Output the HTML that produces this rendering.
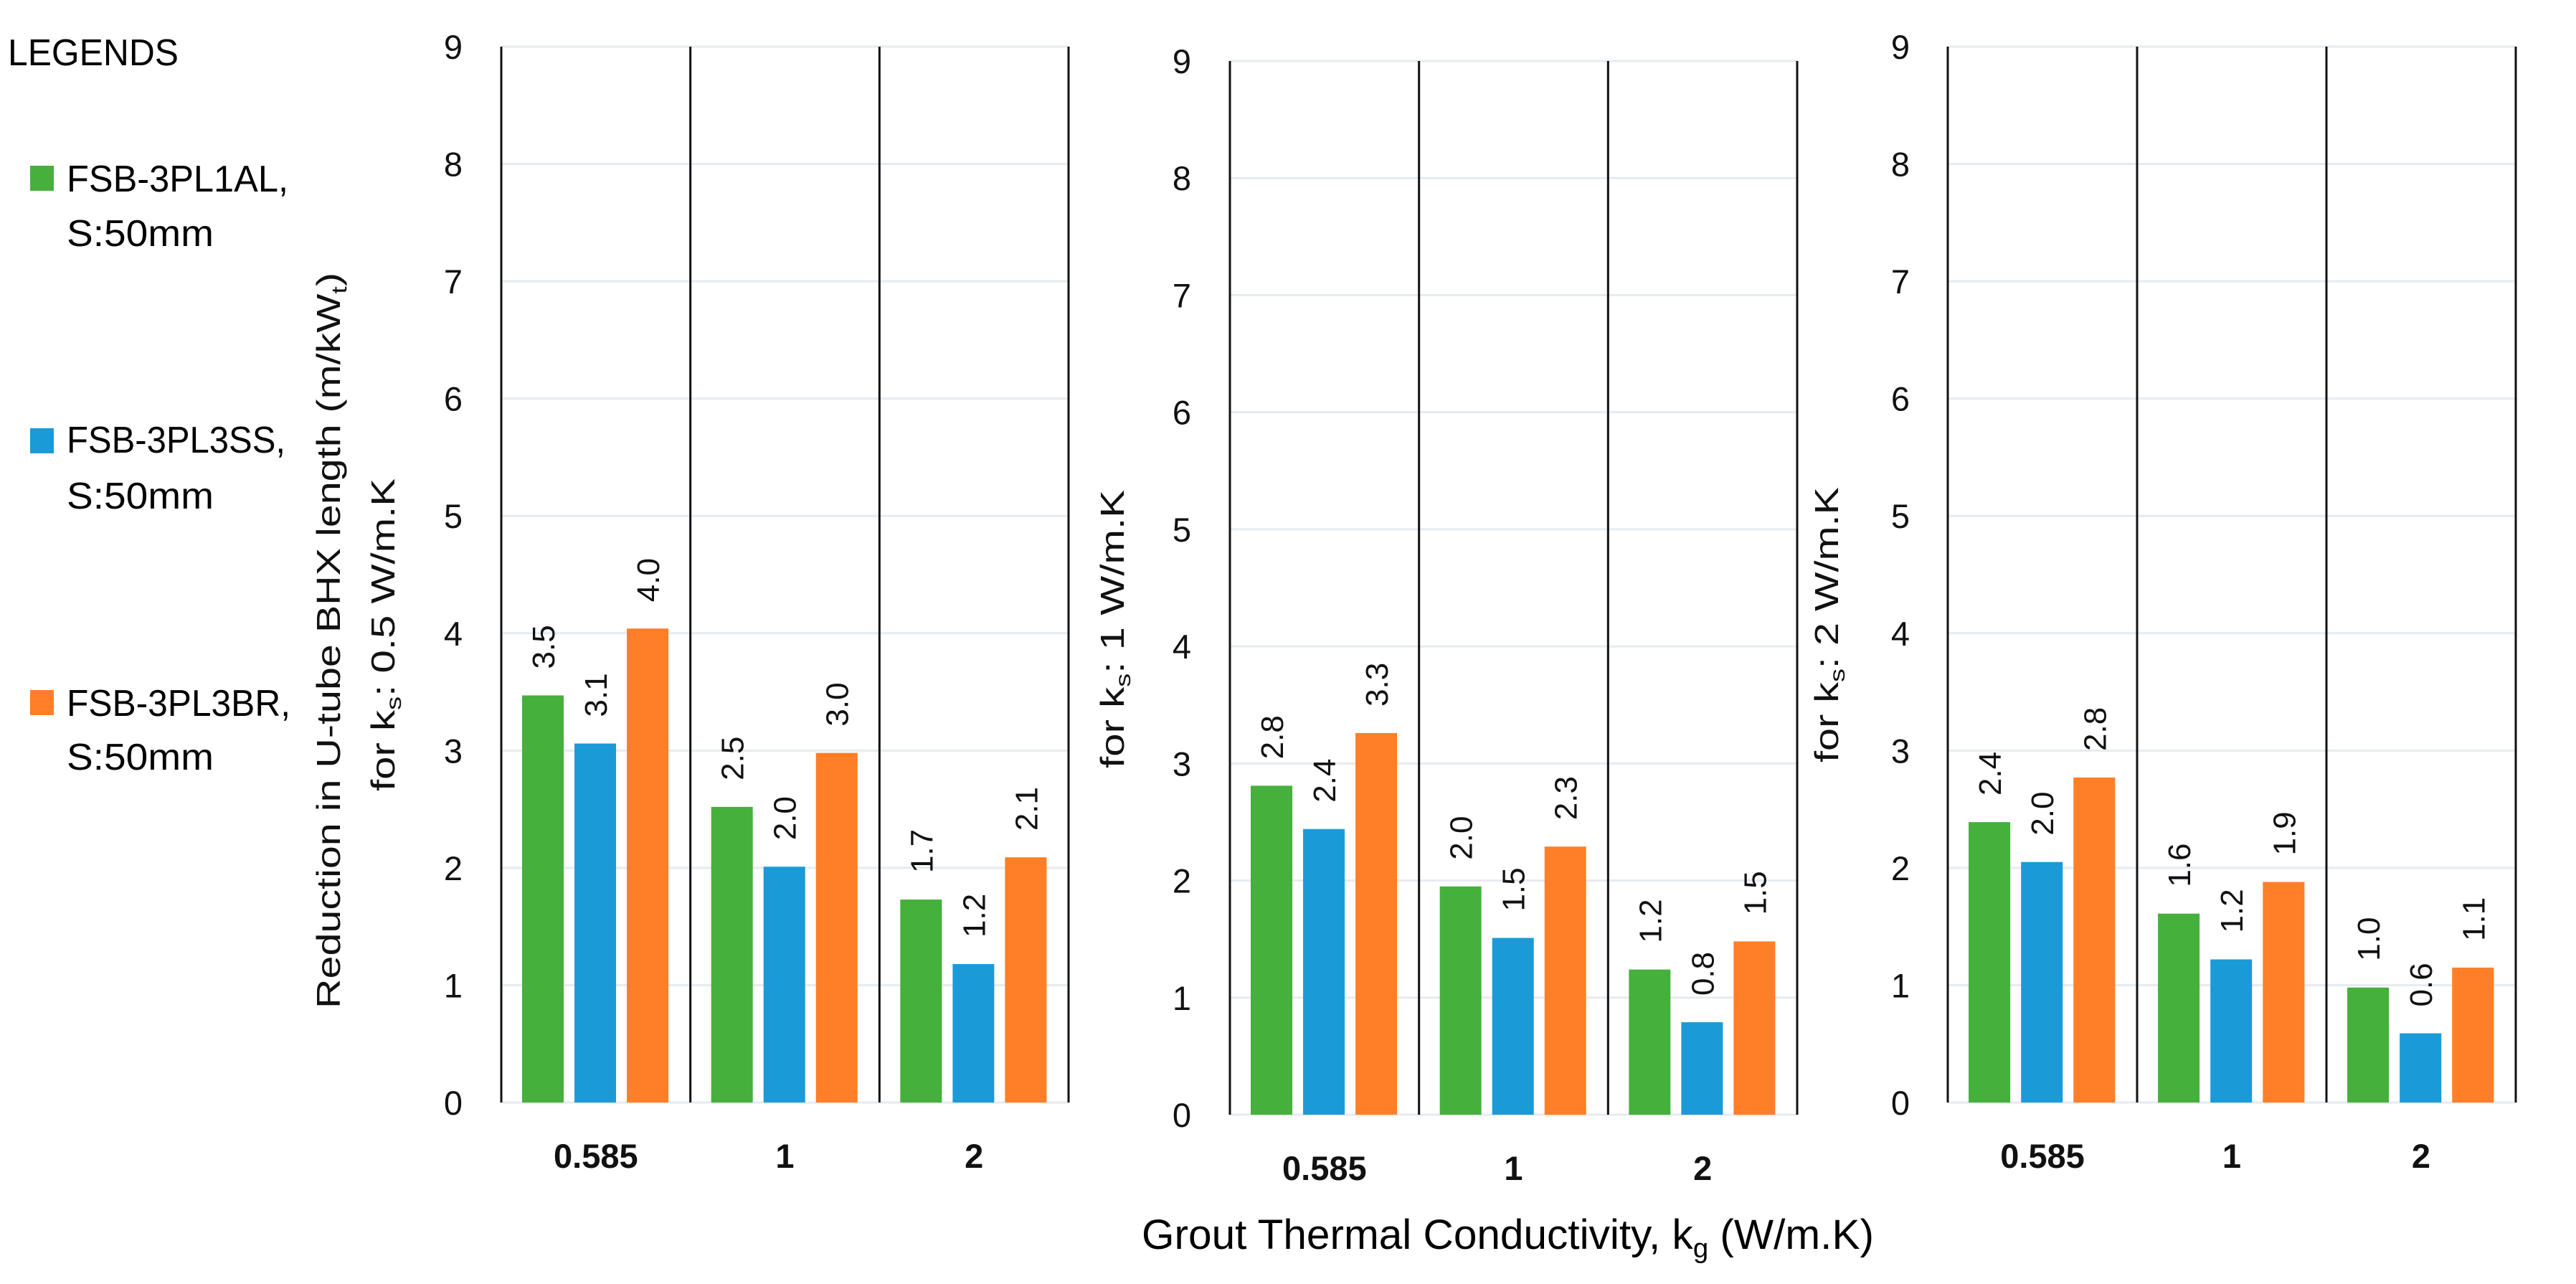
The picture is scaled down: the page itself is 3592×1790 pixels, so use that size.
<!DOCTYPE html>
<html><head><meta charset="utf-8"><style>
html,body{margin:0;padding:0;background:#fff;}
svg{display:block;font-family:"Liberation Sans",sans-serif;}
</style></head><body>
<svg id="chart" width="3592" height="1790" viewBox="0 0 3592 1790" xmlns="http://www.w3.org/2000/svg">
<g id="legend">
  <text x="11" y="91" font-size="52" textLength="238" lengthAdjust="spacingAndGlyphs">LEGENDS</text>
  <g>
    <rect x="42" y="231" width="33" height="35" fill="#46b03c"/>
    <text x="93" y="267" font-size="52" textLength="309" lengthAdjust="spacingAndGlyphs">FSB-3PL1AL,</text>
    <text x="93" y="343" font-size="52" textLength="205" lengthAdjust="spacingAndGlyphs">S:50mm</text>
  </g>
  <g>
    <rect x="42" y="597" width="33" height="35" fill="#1a9bd7"/>
    <text x="93" y="631" font-size="52" textLength="305" lengthAdjust="spacingAndGlyphs">FSB-3PL3SS,</text>
    <text x="93" y="709" font-size="52" textLength="205" lengthAdjust="spacingAndGlyphs">S:50mm</text>
  </g>
  <g>
    <rect x="42" y="962" width="33" height="35" fill="#fe7f27"/>
    <text x="93" y="998" font-size="52" textLength="312" lengthAdjust="spacingAndGlyphs">FSB-3PL3BR,</text>
    <text x="93" y="1073" font-size="52" textLength="205" lengthAdjust="spacingAndGlyphs">S:50mm</text>
  </g>
</g>
<text x="1592" y="1741" font-size="58" textLength="1021" lengthAdjust="spacingAndGlyphs">Grout Thermal Conductivity,  k<tspan font-size="38" dy="12">g</tspan><tspan dy="-12"> (W/m.K)</tspan></text>
<g id="panels"></g>
</svg>
<script>
const categories = ["0.585", "1", "2"];
const seriesNames = ["FSB-3PL1AL", "FSB-3PL3SS", "FSB-3PL3BR"];
const seriesColors = ["#46b03c", "#1a9bd7", "#fe7f27"];
const yTicks = [0,1,2,3,4,5,6,7,8,9];
// panel 1: ks 0.5
const p1Green = [3.47, 2.52, 1.73];
const p1Blue = [3.06, 2.01, 1.18];
const p1Orange = [4.04, 2.98, 2.09];
const p1Labels = [["3.5","2.5","1.7"],["3.1","2.0","1.2"],["4.0","3.0","2.1"]];
// panel 2: ks 1
const p2Green = [2.81, 1.95, 1.24];
const p2Blue = [2.44, 1.51, 0.79];
const p2Orange = [3.26, 2.29, 1.48];
const p2Labels = [["2.8","2.0","1.2"],["2.4","1.5","0.8"],["3.3","2.3","1.5"]];
// panel 3: ks 2
const p3Green = [2.39, 1.61, 0.98];
const p3Blue = [2.05, 1.22, 0.59];
const p3Orange = [2.77, 1.88, 1.15];
const p3Labels = [["2.4","1.6","1.0"],["2.0","1.2","0.6"],["2.8","1.9","1.1"]];

const NS = "http://www.w3.org/2000/svg";
const root = document.getElementById("panels");
function mk(tag, attrs, parent){const e=document.createElementNS(NS,tag);for(const k in attrs)e.setAttribute(k,attrs[k]);(parent||root).appendChild(e);return e;}

const panels = [
  {x0:699,x1:1490,zero:1537,top:65,tickX:632,catY:1628,series:[p1Green,p1Blue,p1Orange],labels:p1Labels,name:"panel-ks-0-5"},
  {x0:1715,x1:2506,zero:1554,top:85,tickX:1648,catY:1645,series:[p2Green,p2Blue,p2Orange],labels:p2Labels,name:"panel-ks-1"},
  {x0:2716,x1:3508,zero:1537,top:65,tickX:2650,catY:1628,series:[p3Green,p3Blue,p3Orange],labels:p3Labels,name:"panel-ks-2"}
];

panels.forEach((p)=>{
  const g = mk("g",{});
  
  
  const yMax = yTicks[yTicks.length-1];
  const yScale = v => p.zero - (v/yMax)*(p.zero-p.top);
  const W = (p.x1-p.x0)/categories.length;
  const xBand = i => p.x0 + i*W;
  yTicks.forEach(t=>{
    const ln = mk("line",{x1:p.x0,x2:p.x1,y1:yScale(t),y2:yScale(t),stroke:"#e6ebf0","stroke-width":3},g);
    
    
    const tx = mk("text",{x:p.tickX,y:yScale(t)+17,"font-size":47,"text-anchor":"middle",fill:"#111"},g);
    
    
    tx.textContent = String(t);
  });
  for(let i=0;i<=categories.length;i++){
    const v = mk("line",{x1:xBand(i),x2:xBand(i),y1:p.top,y2:p.zero,stroke:"#111","stroke-width":3},g);
    
    
  }
  const bw = W*0.22, off = W*0.11, gap = W*0.057;
  categories.forEach((c,ci)=>{
    p.series.forEach((s,si)=>{
      const x = xBand(ci)+off+si*(bw+gap);
      const y = yScale(s[ci]);
      const r = mk("rect",{x:x,y:y,width:bw,height:p.zero-y,fill:seriesColors[si]},g);
      
      
      const cx = x+bw/2+16, ty = y-37;
      const lb = mk("text",{x:cx,y:ty,"font-size":44,fill:"#111",transform:`rotate(-90 ${cx} ${ty})`},g);
      
      
      lb.textContent = p.labels[si][ci];
    });
    const cl = mk("text",{x:xBand(ci)+W/2,y:p.catY,"font-size":47,"font-weight":"bold","text-anchor":"middle",fill:"#111"},g);
    
    
    cl.textContent = categories[ci];
  });
});

function ytitle(cx, cy, len, parts, name){
  const t = mk("text",{x:cx,y:cy,"font-size":46,"text-anchor":"middle",fill:"#111",transform:`rotate(-90 ${cx} ${cy})`,textLength:len,lengthAdjust:"spacingAndGlyphs"});
  
  
  parts.forEach(pt=>{
    const ts = mk("tspan",{},t);
    if(pt.sub){ts.setAttribute("font-size","30");ts.setAttribute("dy","9");}
    if(pt.back){ts.setAttribute("dy","-9");}
    ts.textContent = pt.t;
  });
}
ytitle(474, 893, 1026, [{t:"Reduction in U-tube BHX length (m/kW"},{t:"t",sub:true},{t:")",back:true}], "y-axis-title-main");
ytitle(550, 885, 436, [{t:"for k"},{t:"s",sub:true},{t:": 0.5 W/m.K",back:true}], "y-axis-title-ks-0-5");
ytitle(1567, 877, 388, [{t:"for k"},{t:"s",sub:true},{t:": 1 W/m.K",back:true}], "y-axis-title-ks-1");
ytitle(2563, 871, 384, [{t:"for k"},{t:"s",sub:true},{t:": 2 W/m.K",back:true}], "y-axis-title-ks-2");
</script>
</body></html>
